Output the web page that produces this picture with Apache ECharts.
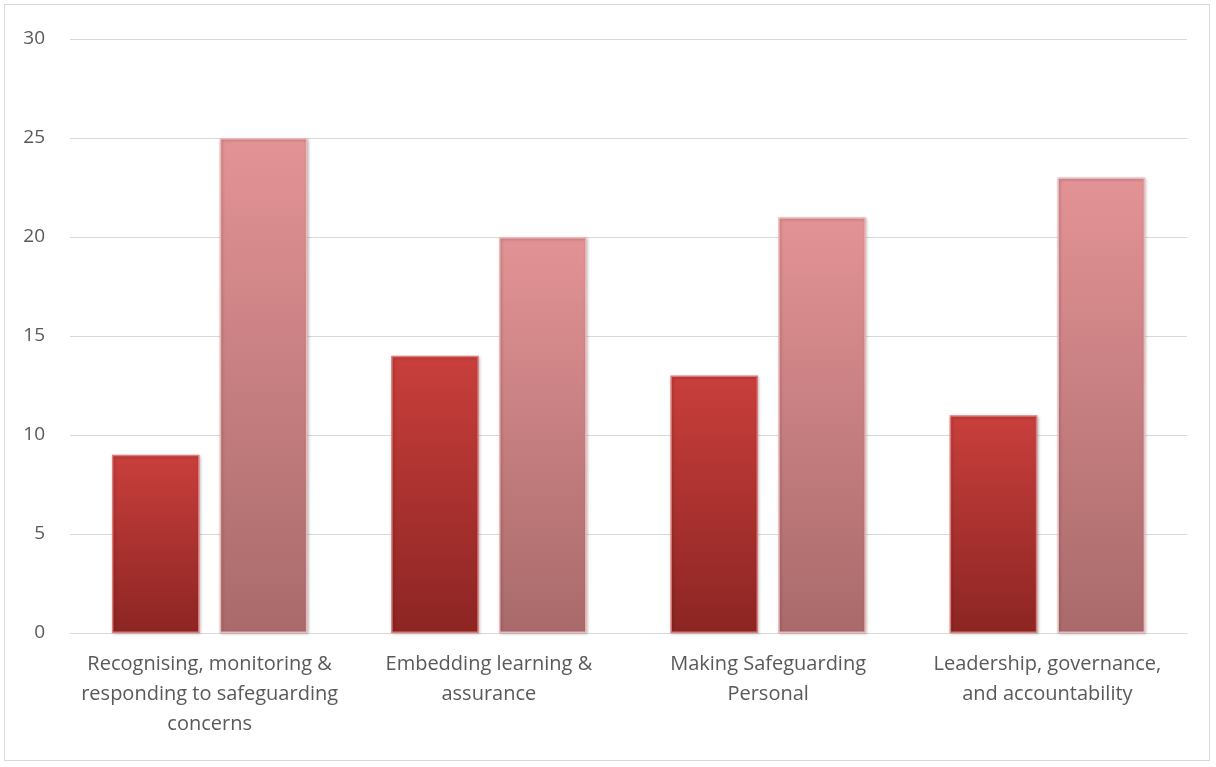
<!DOCTYPE html>
<html><head><meta charset="utf-8">
<script src="https://cdn.jsdelivr.net/npm/echarts@6/dist/echarts.min.js"></script>
<style>html,body{margin:0;padding:0;background:#fff}
#wrap{position:absolute;left:4px;top:4px;width:1206px;height:757px;border:1px solid #d9d9d9;box-sizing:border-box}
#c{position:absolute;left:0;top:0;width:1216px;height:767px}</style>
</head><body><div id="wrap"></div><div id="c"></div>
<script>
const categories = ["Recognising, monitoring &\nresponding to safeguarding\nconcerns", "Embedding learning &\nassurance", "Making Safeguarding\nPersonal", "Leadership, governance,\nand accountability"];
const series1 = [9, 14, 13, 11];
const series2 = [25, 20, 21, 23];
const yTicks = {min: 0, max: 30, interval: 5};

const chart = echarts.init(document.getElementById('c'));
const grad = (a, b) => new echarts.graphic.LinearGradient(0, 0, 0, 1, [{offset: 0, color: a}, {offset: 1, color: b}]);
chart.setOption({
  animation: false,
  grid: {left: 70, right: 29, top: 39, bottom: 134},
  xAxis: {
    type: 'category', data: categories,
    axisLine: {lineStyle: {color: '#d9d9d9'}}, axisTick: {show: false},
    axisLabel: {color: '#595959', fontSize: 20, fontFamily: 'Open Sans', lineHeight: 30, margin: 16, interval: 0}
  },
  yAxis: {
    type: 'value', min: yTicks.min, max: yTicks.max, interval: yTicks.interval,
    axisLine: {show: false}, axisTick: {show: false},
    splitLine: {lineStyle: {color: '#d9d9d9'}},
    axisLabel: {color: '#595959', fontSize: 19, fontFamily: 'Open Sans', margin: 25}
  },
  series: [
    {name: 'Series 1', type: 'bar', data: series1, barGap: '23%', barCategoryGap: '30%',
     itemStyle: {color: grad('#c93f3c', '#8c2523'), borderColor: '#e07a78', borderWidth: 1.5,
       shadowColor: 'rgba(0,0,0,0.25)', shadowBlur: 3, shadowOffsetX: 1, shadowOffsetY: 1}},
    {name: 'Series 2', type: 'bar', data: series2,
     itemStyle: {color: grad('#e39395', '#a96a6b'), borderColor: '#f0b8b9', borderWidth: 1.5,
       shadowColor: 'rgba(0,0,0,0.25)', shadowBlur: 3, shadowOffsetX: 1, shadowOffsetY: 1}}
  ]
});
</script></body></html>
